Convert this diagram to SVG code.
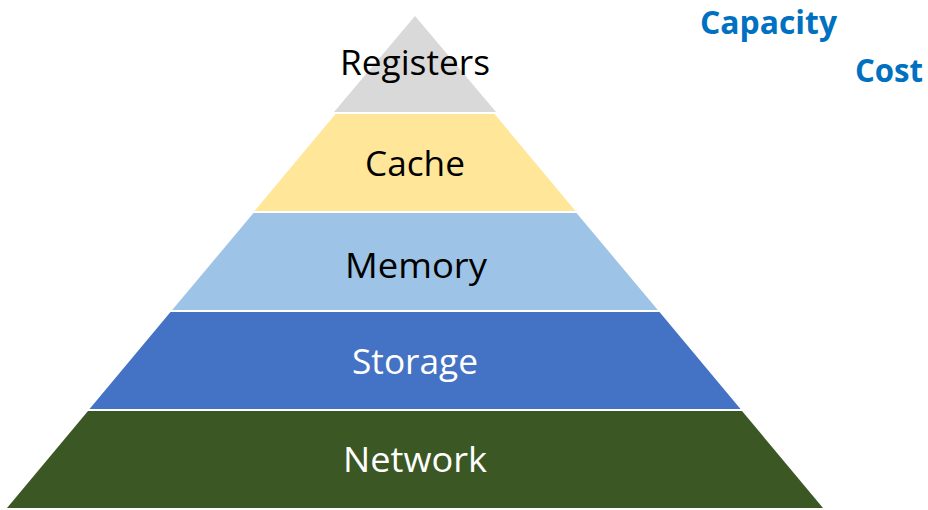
<svg xmlns="http://www.w3.org/2000/svg" width="928" height="510" viewBox="0 0 928 510">
<style>
.layer{stroke:none}
.lbl{font-family:"Open Sans","Liberation Sans",sans-serif;font-size:35px;text-anchor:middle}
.dark{fill:#000000}
.light{fill:#FFFFFF}
.axis{font-family:"Open Sans","Liberation Sans",sans-serif;font-size:32px;font-weight:bold;fill:#0070C0}
</style>
<rect width="928" height="510" fill="#FFFFFF"/>
<g id="registers">
<polygon class="layer" fill="#D9D9D9" points="415,16 496,112 334,112"/>
<text class="lbl dark" x="415" y="75" textLength="150" lengthAdjust="spacingAndGlyphs">Registers</text>
</g>
<g id="cache">
<polygon class="layer" fill="#FFE699" points="335.5,114 494.5,114 575.5,211 254.5,211"/>
<text class="lbl dark" x="415" y="176" textLength="100" lengthAdjust="spacingAndGlyphs">Cache</text>
</g>
<g id="memory">
<polygon class="layer" fill="#9DC3E6" points="253.5,213 576.5,213 657.8,310 172.2,310"/>
<text class="lbl dark" x="416" y="278" textLength="142" lengthAdjust="spacingAndGlyphs">Memory</text>
</g>
<g id="storage">
<polygon class="layer" fill="#4472C4" points="170.5,312 659.5,312 740.5,409 89.5,409"/>
<text class="lbl light" x="415" y="374" textLength="126" lengthAdjust="spacingAndGlyphs">Storage</text>
</g>
<g id="network">
<polygon class="layer" fill="#3A5724" points="88,411 742,411 823,508 7,508"/>
<text class="lbl light" x="415" y="472" textLength="144" lengthAdjust="spacingAndGlyphs">Network</text>
</g>
<g id="capacity">
<text class="axis" x="700" y="34" textLength="137" lengthAdjust="spacingAndGlyphs">Capacity</text>
</g>
<g id="cost">
<text class="axis" x="855" y="82" textLength="68" lengthAdjust="spacingAndGlyphs">Cost</text>
</g>
<g id="connectors"></g>
</svg>
